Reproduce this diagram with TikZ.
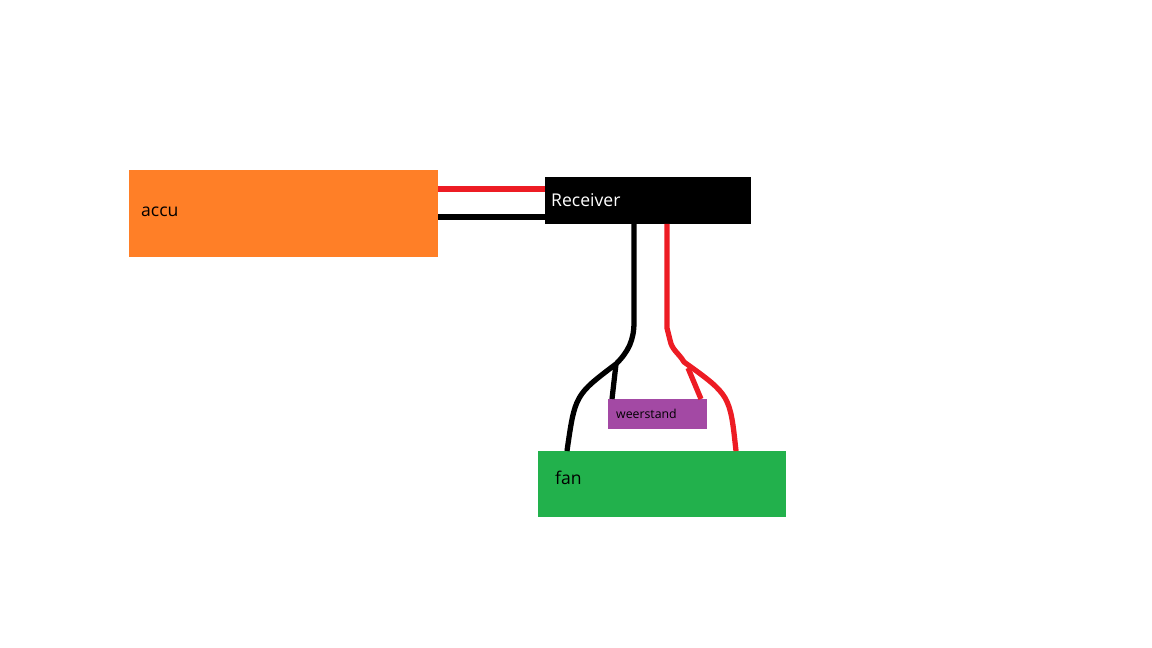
\documentclass[tikz,border=0pt]{standalone}
\usepackage{fontspec}
\setmainfont{Open Sans}
\usetikzlibrary{positioning}

\definecolor{accuorange}{RGB}{255,127,39}
\definecolor{fangreen}{RGB}{34,177,76}
\definecolor{resviolet}{RGB}{163,73,164}
\definecolor{wirered}{RGB}{237,28,36}

\tikzset{
    box/.style={inner sep=0pt, outer sep=0pt, anchor=north west},
    redwire/.style={draw=wirered, line width=3pt},
    blackwire/.style={draw=black, line width=3pt}
}

\begin{document}
\begin{tikzpicture}[x=0.02cm, y=-0.02cm]

    \useasboundingbox (0,0) rectangle (1152,648);

    % the parts
    \node[box, fill=accuorange, minimum width=309*0.02cm, minimum height=87*0.02cm] (accu) at (129,170) {};
    \node[anchor=west] (accutext) at (135,212) {accu};
    \node[box, fill=black, minimum width=206*0.02cm, minimum height=47*0.02cm] (receiver) at (545,177) {};
    \node[anchor=west, text=white] (receivertext) at (545,200) {Receiver};
    \node[box, fill=fangreen, minimum width=248*0.02cm, minimum height=66*0.02cm] (fan) at (538,451) {};
    \node[anchor=west] (fantext) at (549,478) {fan};
    \node[box, fill=resviolet, minimum width=99*0.02cm, minimum height=30*0.02cm] (weerstand) at (608,399) {};
    \node[anchor=west, font=\scriptsize] (weerstandtext) at (610,414) {weerstand};

    % wire points
    \coordinate (bsplit) at (634,322);
    \coordinate (bjoint) at (616,364);
    \coordinate (rsplit) at (667,328);
    \coordinate (rjoint) at (684,362);

    % wires
    \draw[redwire] (accu.north east |- 0,189) -- (receiver.west |- 0,189);
    \draw[blackwire] (accu.north east |- 0,217) -- (receiver.west |- 0,217);

    \draw[blackwire] (634,224) -- (bsplit) to[out=270, in=45] (bjoint)
        .. controls (575,395) .. (567,451);
    \draw[blackwire] (bjoint) -- (612,399);

    \draw[redwire] (667,224) -- (rsplit) -- (670,340) to[out=280, in=120] (rjoint)
        .. controls (730,395) .. (736,451);
    \draw[redwire] (688,368) -- (701,399);

\end{tikzpicture}
\end{document}
